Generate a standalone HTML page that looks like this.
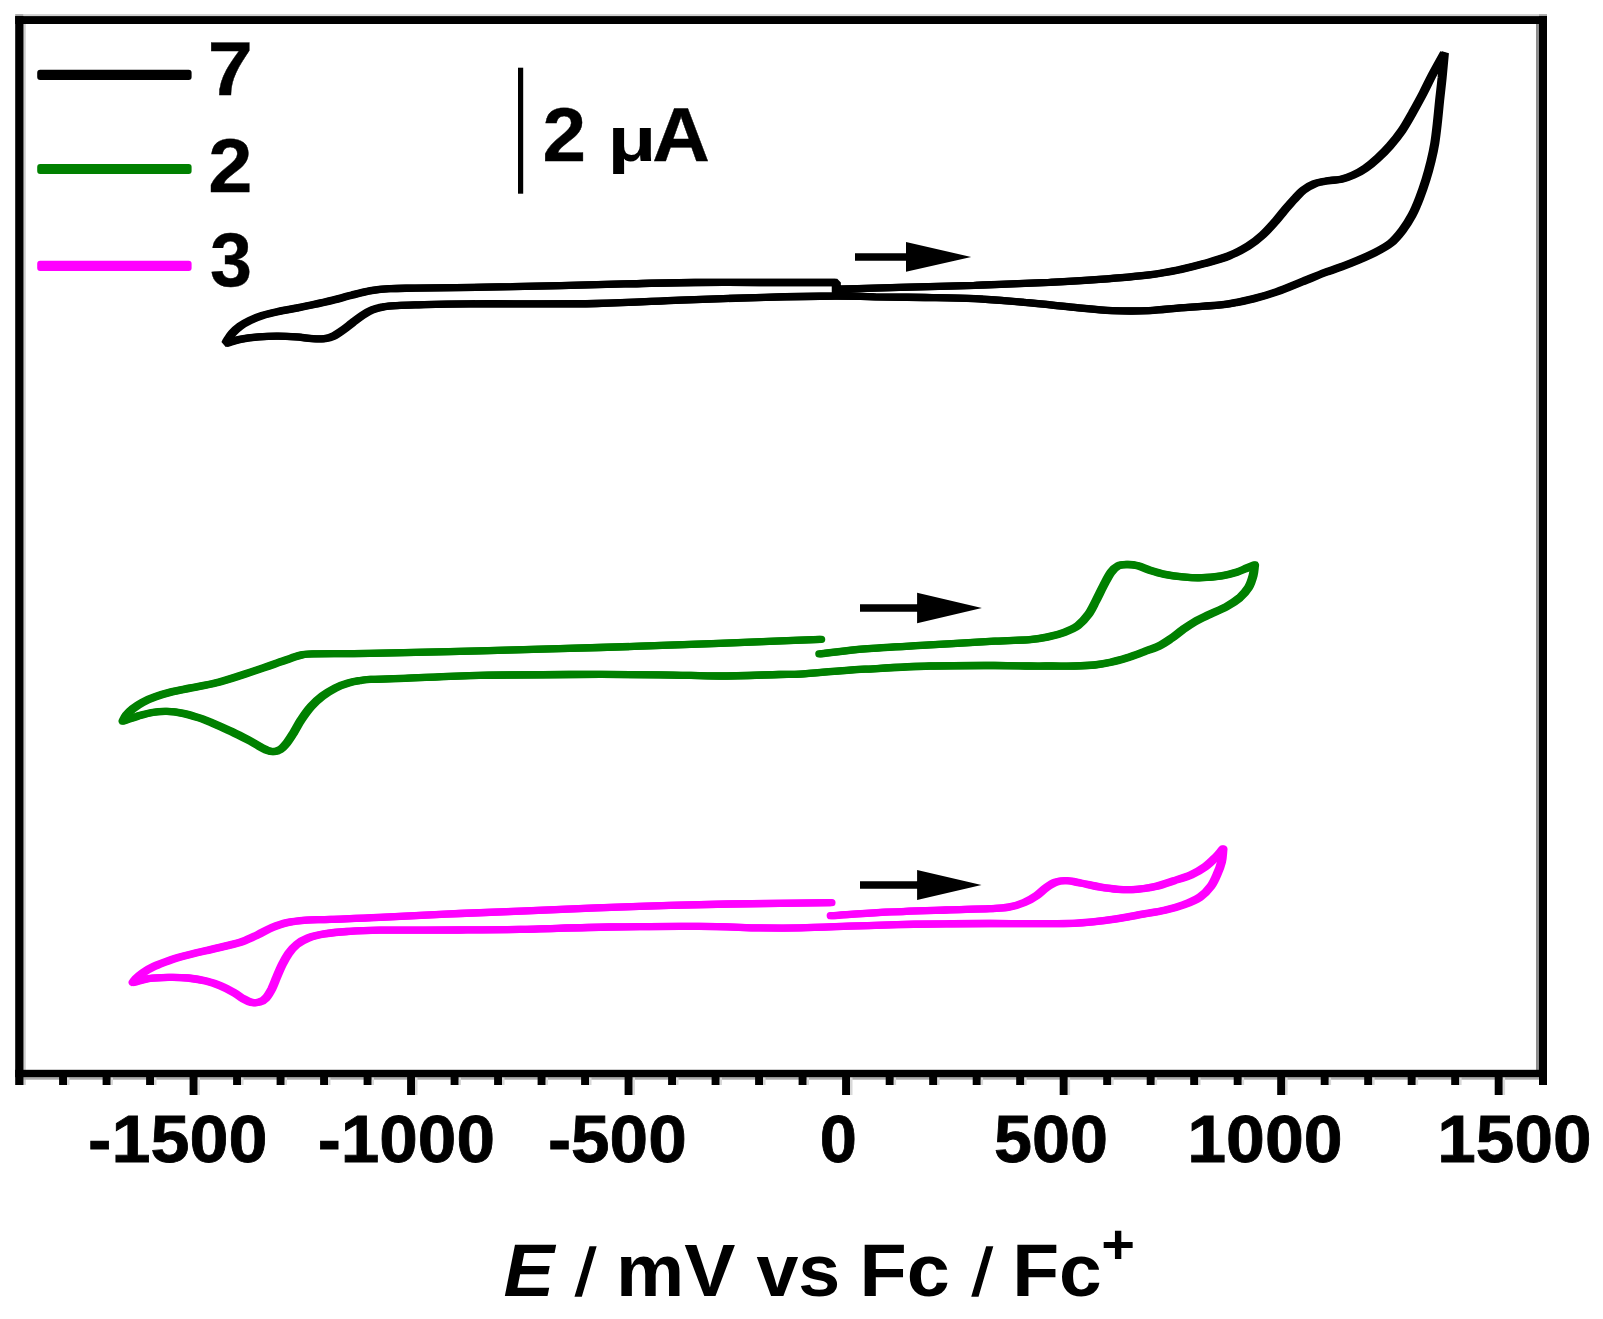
<!DOCTYPE html>
<html lang="en"><head><meta charset="utf-8"><title>Cyclic voltammograms</title>
<style>
html,body{margin:0;padding:0;background:#fff;}
body{width:1603px;height:1319px;overflow:hidden;}
svg{display:block;}
text{font-family:"Liberation Sans",sans-serif;font-weight:bold;fill:#000;stroke-linejoin:miter;}
.c{fill:none;stroke-width:7.3;stroke-linejoin:round;stroke-linecap:round;}
</style></head><body>
<svg width="1603" height="1319" viewBox="0 0 1603 1319">
<rect width="1603" height="1319" fill="#fff"/>
<!-- soft edges of frame -->
<g>
<rect x="23.5" y="14.1" width="1515.5" height="2.1" fill="#d0d0d0"/>
<rect x="15.2" y="14.1" width="8.3" height="2.1" fill="#a8a8a8"/>
<rect x="1539" y="14.1" width="8" height="2.1" fill="#a8a8a8"/>
<rect x="23.5" y="24" width="2.3" height="1061" fill="#cfcfcf"/>
<rect x="1536" y="24" width="3.1" height="1046" fill="#8c8c8c"/>
<rect x="23.5" y="1077.2" width="1515.5" height="2.5" fill="#aaa"/>
<g fill="#d8d8d8"><rect x="67.0" y="1077.2" width="2.5" height="7.8"/><rect x="110.5" y="1077.2" width="2.5" height="7.8"/><rect x="154.0" y="1077.2" width="2.5" height="7.8"/><rect x="197.5" y="1077.2" width="2.5" height="17.8"/><rect x="241.0" y="1077.2" width="2.5" height="7.8"/><rect x="284.5" y="1077.2" width="2.5" height="7.8"/><rect x="328.0" y="1077.2" width="2.5" height="7.8"/><rect x="371.5" y="1077.2" width="2.5" height="7.8"/><rect x="415.0" y="1077.2" width="2.5" height="17.8"/><rect x="458.5" y="1077.2" width="2.5" height="7.8"/><rect x="502.0" y="1077.2" width="2.5" height="7.8"/><rect x="545.5" y="1077.2" width="2.5" height="7.8"/><rect x="589.0" y="1077.2" width="2.5" height="7.8"/><rect x="632.5" y="1077.2" width="2.5" height="17.8"/><rect x="676.0" y="1077.2" width="2.5" height="7.8"/><rect x="719.5" y="1077.2" width="2.5" height="7.8"/><rect x="763.0" y="1077.2" width="2.5" height="7.8"/><rect x="806.5" y="1077.2" width="2.5" height="7.8"/><rect x="850.0" y="1077.2" width="2.5" height="17.8"/><rect x="893.6" y="1077.2" width="2.5" height="7.8"/><rect x="937.1" y="1077.2" width="2.5" height="7.8"/><rect x="980.6" y="1077.2" width="2.5" height="7.8"/><rect x="1024.1" y="1077.2" width="2.5" height="7.8"/><rect x="1067.6" y="1077.2" width="2.5" height="17.8"/><rect x="1111.1" y="1077.2" width="2.5" height="7.8"/><rect x="1154.6" y="1077.2" width="2.5" height="7.8"/><rect x="1198.1" y="1077.2" width="2.5" height="7.8"/><rect x="1241.6" y="1077.2" width="2.5" height="7.8"/><rect x="1285.1" y="1077.2" width="2.5" height="17.8"/><rect x="1328.6" y="1077.2" width="2.5" height="7.8"/><rect x="1372.1" y="1077.2" width="2.5" height="7.8"/><rect x="1415.6" y="1077.2" width="2.5" height="7.8"/><rect x="1459.1" y="1077.2" width="2.5" height="7.8"/><rect x="1502.6" y="1077.2" width="2.5" height="17.8"/></g>
</g>
<!-- frame -->
<g fill="#000">
<rect x="15.2" y="16.1" width="1531.8" height="7.9"/>
<rect x="15.2" y="16.1" width="8.3" height="1068.9"/>
<rect x="1539" y="16.1" width="8" height="1068.9"/>
<rect x="15.2" y="1069.8" width="1531.8" height="7.4"/>
<rect x="59.1" y="1074" width="7.9" height="11"/><rect x="102.6" y="1074" width="7.9" height="11"/><rect x="146.1" y="1074" width="7.9" height="11"/><rect x="189.6" y="1074" width="7.9" height="21"/><rect x="233.1" y="1074" width="7.9" height="11"/><rect x="276.6" y="1074" width="7.9" height="11"/><rect x="320.1" y="1074" width="7.9" height="11"/><rect x="363.6" y="1074" width="7.9" height="11"/><rect x="407.1" y="1074" width="7.9" height="21"/><rect x="450.6" y="1074" width="7.9" height="11"/><rect x="494.1" y="1074" width="7.9" height="11"/><rect x="537.6" y="1074" width="7.9" height="11"/><rect x="581.1" y="1074" width="7.9" height="11"/><rect x="624.6" y="1074" width="7.9" height="21"/><rect x="668.1" y="1074" width="7.9" height="11"/><rect x="711.6" y="1074" width="7.9" height="11"/><rect x="755.1" y="1074" width="7.9" height="11"/><rect x="798.6" y="1074" width="7.9" height="11"/><rect x="842.1" y="1074" width="7.9" height="21"/><rect x="885.7" y="1074" width="7.9" height="11"/><rect x="929.2" y="1074" width="7.9" height="11"/><rect x="972.7" y="1074" width="7.9" height="11"/><rect x="1016.2" y="1074" width="7.9" height="11"/><rect x="1059.7" y="1074" width="7.9" height="21"/><rect x="1103.2" y="1074" width="7.9" height="11"/><rect x="1146.7" y="1074" width="7.9" height="11"/><rect x="1190.2" y="1074" width="7.9" height="11"/><rect x="1233.7" y="1074" width="7.9" height="11"/><rect x="1277.2" y="1074" width="7.9" height="21"/><rect x="1320.7" y="1074" width="7.9" height="11"/><rect x="1364.2" y="1074" width="7.9" height="11"/><rect x="1407.7" y="1074" width="7.9" height="11"/><rect x="1451.2" y="1074" width="7.9" height="11"/><rect x="1494.7" y="1074" width="7.9" height="21"/>
</g>
<!-- legend -->
<rect x="37.2" y="69.8" width="154.4" height="10.1" rx="3" fill="#000"/>
<rect x="37.2" y="164" width="154.4" height="10.1" rx="3" fill="#008000"/>
<rect x="37.2" y="260.8" width="154.4" height="10.1" rx="3" fill="#ff00ff"/>
<g filter="url(#softt)"><text transform="translate(207.67,94.90) scale(1.0549,1)" font-size="76.80" stroke="#000" stroke-width="0.4">7</text><text transform="translate(208.33,191.50) scale(1.0332,1)" font-size="76.80" stroke="#000" stroke-width="0.4">2</text><text transform="translate(210.00,285.70) scale(0.9817,1)" font-size="76.80" stroke="#000" stroke-width="0.4">3</text></g>
<!-- scale bar -->
<rect x="518" y="67.7" width="5.2" height="126" fill="#000"/>
<g filter="url(#softt)"><text><tspan x="542.56" y="160.90" font-size="76.80" textLength="43.56" lengthAdjust="spacingAndGlyphs" stroke="#000" stroke-width="0.4">2</tspan> <tspan x="607.40" y="161.41" font-size="62.19" textLength="48.95" lengthAdjust="spacingAndGlyphs">μ</tspan><tspan x="652.21" y="160.90" font-size="76.80" textLength="57.65" lengthAdjust="spacingAndGlyphs" stroke="#000" stroke-width="0.4">A</tspan></text></g>
<!-- curves -->
<defs>
<filter id="soft" x="-2%" y="-2%" width="104%" height="104%"><feGaussianBlur stdDeviation="0.55"/></filter>
<filter id="softt" x="-2%" y="-10%" width="104%" height="120%"><feGaussianBlur stdDeviation="0.45"/></filter>
</defs>
<g filter="url(#soft)">
<g class="c" stroke="#000" style="stroke-linejoin:bevel"><path transform="translate(-0.9,0)" d="M837.4,289.2 C858.2,288.6 876.9,288.0 899.8,287.4 C922.7,286.8 949.8,286.1 974.7,285.3 C999.7,284.5 1028.7,283.4 1049.5,282.4 C1070.3,281.4 1082.8,280.7 1099.4,279.4 C1116.0,278.1 1135.9,276.4 1149.3,274.8 C1162.7,273.2 1170.8,271.5 1180.0,269.6 C1189.2,267.7 1196.2,265.9 1204.3,263.6 C1212.4,261.3 1221.4,258.9 1228.7,256.0 C1236.0,253.1 1242.4,249.7 1248.1,246.2 C1253.8,242.7 1258.1,239.1 1262.7,234.9 C1267.3,230.7 1272.2,225.0 1275.7,221.1 C1279.2,217.2 1280.6,215.0 1283.7,211.3 C1286.8,207.7 1291.0,202.7 1294.3,199.2 C1297.6,195.7 1300.1,192.6 1303.4,190.1 C1306.7,187.6 1310.2,185.5 1314.0,184.0 C1317.8,182.5 1321.5,181.8 1326.1,181.0 C1330.6,180.2 1336.8,180.2 1341.3,179.2 C1345.8,178.2 1349.4,176.8 1353.4,175.0 C1357.4,173.2 1361.5,171.0 1365.5,168.2 C1369.5,165.4 1373.7,161.9 1377.7,158.2 C1381.8,154.5 1385.8,150.6 1389.8,146.0 C1393.8,141.4 1398.1,136.1 1401.9,130.6 C1405.7,125.1 1409.0,119.0 1412.5,112.8 C1416.0,106.5 1419.9,99.4 1423.2,93.1 C1426.5,86.8 1428.8,81.6 1432.3,74.9 C1435.8,68.2 1440.4,60.2 1444.4,52.9 C1443.6,61.2 1442.9,70.0 1442.1,77.9 C1441.3,85.9 1440.4,93.0 1439.6,100.6 C1438.8,108.2 1438.1,116.3 1437.3,123.4 C1436.5,130.5 1435.8,136.8 1434.8,143.1 C1433.8,149.4 1432.5,155.2 1431.0,161.3 C1429.5,167.4 1427.9,173.4 1426.0,179.5 C1424.1,185.6 1422.0,191.7 1419.7,197.7 C1417.4,203.7 1414.9,209.9 1412.0,215.3 C1409.1,220.7 1406.0,225.6 1402.5,230.2 C1399.0,234.8 1395.6,239.2 1390.9,243.0 C1386.2,246.8 1381.4,249.3 1374.6,252.7 C1367.8,256.1 1358.4,260.1 1350.3,263.3 C1342.2,266.6 1334.1,269.1 1326.0,272.2 C1317.9,275.3 1309.8,278.7 1301.7,281.9 C1293.6,285.1 1285.4,288.8 1277.3,291.6 C1269.2,294.4 1261.1,296.9 1253.0,298.9 C1244.9,300.9 1236.8,302.6 1228.7,303.8 C1220.6,305.0 1212.4,305.5 1204.3,306.2 C1196.2,306.9 1189.2,307.2 1180.0,307.9 C1170.8,308.6 1160.6,310.2 1149.3,310.6 C1138.0,311.1 1124.4,311.1 1111.9,310.6 C1099.4,310.1 1089.0,308.8 1074.5,307.4 C1060.0,306.0 1041.2,303.8 1024.6,302.4 C1008.0,300.9 991.3,299.5 974.7,298.7 C958.1,297.9 941.4,297.8 924.8,297.5 C908.2,297.2 889.9,297.1 874.9,296.9 C859.9,296.6 853.3,295.9 835.0,296.0 C816.7,296.1 790.7,296.6 765.0,297.3 C739.3,298.0 708.8,299.1 680.7,300.1 C652.6,301.1 631.6,302.9 596.5,303.5 C561.4,304.1 500.2,303.6 470.0,303.8 C439.8,304.0 427.4,304.6 415.0,304.9 C402.6,305.2 401.2,305.3 395.9,305.6 C390.6,305.9 387.3,306.1 383.4,306.8 C379.4,307.5 375.7,308.4 372.2,309.9 C368.7,311.3 365.5,313.3 362.2,315.5 C358.9,317.7 355.5,320.5 352.2,323.0 C348.9,325.5 345.4,328.3 342.3,330.5 C339.2,332.7 336.4,334.8 333.5,336.1 C330.6,337.5 328.3,338.2 324.8,338.6 C321.3,339.0 317.1,338.9 312.3,338.6 C307.5,338.3 301.9,337.2 296.1,336.8 C290.3,336.4 283.6,336.1 277.4,336.1 C271.2,336.1 264.9,336.3 258.7,336.8 C252.5,337.3 245.5,338.2 240.0,339.3 C234.5,340.4 230.4,342.2 225.6,343.6 C226.2,342.4 226.3,341.7 227.5,339.9 C228.7,338.1 230.4,335.3 232.5,333.0 C234.6,330.7 237.1,328.3 240.0,326.2 C242.9,324.1 246.2,322.3 249.9,320.5 C253.6,318.7 257.8,316.9 262.4,315.5 C267.0,314.1 271.8,313.0 277.4,311.8 C283.0,310.6 289.9,309.4 296.1,308.1 C302.3,306.9 308.6,305.7 314.8,304.3 C321.0,302.9 327.3,301.6 333.5,300.0 C339.7,298.4 345.9,296.6 352.2,295.0 C358.4,293.4 364.8,291.7 371.0,290.6 C377.2,289.6 382.4,289.1 389.7,288.7 C397.0,288.3 394.6,288.4 415.0,288.1 C435.4,287.8 477.4,287.4 512.3,286.7 C547.2,286.0 594.2,284.6 624.6,283.9 C655.0,283.2 672.2,282.7 694.8,282.5 C717.4,282.3 736.4,282.5 760.0,282.5 C783.6,282.5 810.9,282.5 836.3,282.5 C836.3,287.0 836.3,291.5 836.3,296.0"/><path transform="translate(0.9,0)" d="M837.4,289.2 C858.2,288.6 876.9,288.0 899.8,287.4 C922.7,286.8 949.8,286.1 974.7,285.3 C999.7,284.5 1028.7,283.4 1049.5,282.4 C1070.3,281.4 1082.8,280.7 1099.4,279.4 C1116.0,278.1 1135.9,276.4 1149.3,274.8 C1162.7,273.2 1170.8,271.5 1180.0,269.6 C1189.2,267.7 1196.2,265.9 1204.3,263.6 C1212.4,261.3 1221.4,258.9 1228.7,256.0 C1236.0,253.1 1242.4,249.7 1248.1,246.2 C1253.8,242.7 1258.1,239.1 1262.7,234.9 C1267.3,230.7 1272.2,225.0 1275.7,221.1 C1279.2,217.2 1280.6,215.0 1283.7,211.3 C1286.8,207.7 1291.0,202.7 1294.3,199.2 C1297.6,195.7 1300.1,192.6 1303.4,190.1 C1306.7,187.6 1310.2,185.5 1314.0,184.0 C1317.8,182.5 1321.5,181.8 1326.1,181.0 C1330.6,180.2 1336.8,180.2 1341.3,179.2 C1345.8,178.2 1349.4,176.8 1353.4,175.0 C1357.4,173.2 1361.5,171.0 1365.5,168.2 C1369.5,165.4 1373.7,161.9 1377.7,158.2 C1381.8,154.5 1385.8,150.6 1389.8,146.0 C1393.8,141.4 1398.1,136.1 1401.9,130.6 C1405.7,125.1 1409.0,119.0 1412.5,112.8 C1416.0,106.5 1419.9,99.4 1423.2,93.1 C1426.5,86.8 1428.8,81.6 1432.3,74.9 C1435.8,68.2 1440.4,60.2 1444.4,52.9 C1443.6,61.2 1442.9,70.0 1442.1,77.9 C1441.3,85.9 1440.4,93.0 1439.6,100.6 C1438.8,108.2 1438.1,116.3 1437.3,123.4 C1436.5,130.5 1435.8,136.8 1434.8,143.1 C1433.8,149.4 1432.5,155.2 1431.0,161.3 C1429.5,167.4 1427.9,173.4 1426.0,179.5 C1424.1,185.6 1422.0,191.7 1419.7,197.7 C1417.4,203.7 1414.9,209.9 1412.0,215.3 C1409.1,220.7 1406.0,225.6 1402.5,230.2 C1399.0,234.8 1395.6,239.2 1390.9,243.0 C1386.2,246.8 1381.4,249.3 1374.6,252.7 C1367.8,256.1 1358.4,260.1 1350.3,263.3 C1342.2,266.6 1334.1,269.1 1326.0,272.2 C1317.9,275.3 1309.8,278.7 1301.7,281.9 C1293.6,285.1 1285.4,288.8 1277.3,291.6 C1269.2,294.4 1261.1,296.9 1253.0,298.9 C1244.9,300.9 1236.8,302.6 1228.7,303.8 C1220.6,305.0 1212.4,305.5 1204.3,306.2 C1196.2,306.9 1189.2,307.2 1180.0,307.9 C1170.8,308.6 1160.6,310.2 1149.3,310.6 C1138.0,311.1 1124.4,311.1 1111.9,310.6 C1099.4,310.1 1089.0,308.8 1074.5,307.4 C1060.0,306.0 1041.2,303.8 1024.6,302.4 C1008.0,300.9 991.3,299.5 974.7,298.7 C958.1,297.9 941.4,297.8 924.8,297.5 C908.2,297.2 889.9,297.1 874.9,296.9 C859.9,296.6 853.3,295.9 835.0,296.0 C816.7,296.1 790.7,296.6 765.0,297.3 C739.3,298.0 708.8,299.1 680.7,300.1 C652.6,301.1 631.6,302.9 596.5,303.5 C561.4,304.1 500.2,303.6 470.0,303.8 C439.8,304.0 427.4,304.6 415.0,304.9 C402.6,305.2 401.2,305.3 395.9,305.6 C390.6,305.9 387.3,306.1 383.4,306.8 C379.4,307.5 375.7,308.4 372.2,309.9 C368.7,311.3 365.5,313.3 362.2,315.5 C358.9,317.7 355.5,320.5 352.2,323.0 C348.9,325.5 345.4,328.3 342.3,330.5 C339.2,332.7 336.4,334.8 333.5,336.1 C330.6,337.5 328.3,338.2 324.8,338.6 C321.3,339.0 317.1,338.9 312.3,338.6 C307.5,338.3 301.9,337.2 296.1,336.8 C290.3,336.4 283.6,336.1 277.4,336.1 C271.2,336.1 264.9,336.3 258.7,336.8 C252.5,337.3 245.5,338.2 240.0,339.3 C234.5,340.4 230.4,342.2 225.6,343.6 C226.2,342.4 226.3,341.7 227.5,339.9 C228.7,338.1 230.4,335.3 232.5,333.0 C234.6,330.7 237.1,328.3 240.0,326.2 C242.9,324.1 246.2,322.3 249.9,320.5 C253.6,318.7 257.8,316.9 262.4,315.5 C267.0,314.1 271.8,313.0 277.4,311.8 C283.0,310.6 289.9,309.4 296.1,308.1 C302.3,306.9 308.6,305.7 314.8,304.3 C321.0,302.9 327.3,301.6 333.5,300.0 C339.7,298.4 345.9,296.6 352.2,295.0 C358.4,293.4 364.8,291.7 371.0,290.6 C377.2,289.6 382.4,289.1 389.7,288.7 C397.0,288.3 394.6,288.4 415.0,288.1 C435.4,287.8 477.4,287.4 512.3,286.7 C547.2,286.0 594.2,284.6 624.6,283.9 C655.0,283.2 672.2,282.7 694.8,282.5 C717.4,282.3 736.4,282.5 760.0,282.5 C783.6,282.5 810.9,282.5 836.3,282.5 C836.3,287.0 836.3,291.5 836.3,296.0"/></g>
<g class="c" stroke="#008000"><path transform="translate(-0.9,0)" d="M819.8,653.8 C834.8,652.2 846.6,650.4 864.9,648.9 C883.2,647.4 908.2,646.2 929.8,644.9 C951.4,643.6 977.9,642.1 994.6,641.2 C1011.3,640.3 1021.1,640.3 1030.0,639.6 C1038.9,638.9 1042.3,638.1 1048.0,636.9 C1053.7,635.7 1059.4,634.2 1064.4,632.3 C1069.4,630.4 1073.9,628.6 1077.9,625.6 C1081.9,622.6 1085.4,618.5 1088.4,614.4 C1091.4,610.3 1093.4,605.6 1095.9,600.9 C1098.4,596.1 1100.9,590.6 1103.4,585.9 C1105.9,581.2 1108.4,575.9 1110.9,572.5 C1113.4,569.1 1115.6,567.0 1118.3,565.7 C1121.0,564.4 1124.0,564.5 1127.3,564.5 C1130.5,564.5 1134.0,564.8 1137.8,565.7 C1141.5,566.7 1145.3,568.8 1149.8,570.2 C1154.3,571.6 1159.3,573.2 1164.8,574.3 C1170.3,575.4 1176.5,576.3 1182.7,576.9 C1188.9,577.5 1195.7,577.9 1202.2,577.7 C1208.7,577.5 1215.9,576.7 1221.6,575.8 C1227.3,574.9 1232.3,573.5 1236.6,572.2 C1240.8,570.9 1244.1,569.2 1247.1,568.0 C1250.1,566.8 1252.1,566.0 1254.6,565.0 C1254.1,568.5 1254.1,571.8 1253.1,575.5 C1252.1,579.2 1250.8,583.7 1248.6,587.4 C1246.3,591.1 1243.3,594.6 1239.6,597.9 C1235.8,601.1 1231.1,604.1 1226.1,606.9 C1221.1,609.6 1214.9,611.9 1209.7,614.4 C1204.5,616.9 1199.2,619.2 1194.7,621.8 C1190.2,624.4 1186.7,627.0 1182.7,629.8 C1178.7,632.6 1174.7,636.1 1170.7,638.8 C1166.7,641.5 1163.3,643.9 1158.8,646.1 C1154.3,648.3 1149.0,649.8 1143.8,651.8 C1138.5,653.8 1132.8,656.0 1127.3,657.8 C1121.8,659.5 1116.3,661.1 1110.8,662.3 C1105.3,663.5 1100.4,664.4 1094.4,665.0 C1088.4,665.6 1081.9,665.8 1074.9,666.0 C1067.9,666.2 1060.0,666.0 1052.5,666.0 C1045.0,666.0 1039.7,666.1 1030.0,666.0 C1020.4,665.9 1011.3,665.5 994.6,665.5 C977.9,665.5 951.4,665.4 929.8,666.0 C908.2,666.6 879.9,668.4 864.9,669.2 C849.9,670.0 850.8,670.1 840.0,670.9 C829.2,671.7 810.1,673.5 800.0,674.1 C789.9,674.7 792.7,674.2 779.2,674.5 C765.8,674.8 739.3,676.0 719.3,676.0 C699.3,676.0 684.3,675.0 659.4,674.8 C634.5,674.5 599.5,674.4 569.6,674.5 C539.7,674.6 507.2,674.8 479.8,675.4 C452.4,676.0 423.2,677.7 404.9,678.4 C386.6,679.1 377.5,679.0 370.0,679.4 C362.5,679.8 363.4,680.0 359.8,680.6 C356.2,681.2 352.4,681.8 348.4,683.0 C344.3,684.2 339.8,685.7 335.5,687.9 C331.2,690.1 326.6,692.9 322.5,696.0 C318.4,699.1 314.6,702.6 311.1,706.5 C307.6,710.4 304.4,715.0 301.4,719.5 C298.4,724.0 295.7,729.4 293.3,733.3 C290.9,737.2 289.0,740.3 286.8,743.0 C284.6,745.7 282.5,748.1 280.3,749.5 C278.1,750.9 276.0,751.5 273.8,751.6 C271.6,751.7 269.7,751.2 267.3,750.3 C264.9,749.4 262.4,748.0 259.2,746.2 C256.0,744.5 252.5,742.2 247.9,739.8 C243.3,737.4 237.1,734.2 231.7,731.6 C226.3,729.0 220.8,726.6 215.4,724.3 C210.0,722.0 204.6,719.7 199.2,717.9 C193.8,716.1 188.4,714.4 183.0,713.3 C177.6,712.2 171.9,711.5 166.8,711.4 C161.7,711.3 157.1,711.7 152.2,712.5 C147.3,713.3 142.5,714.8 137.6,716.2 C132.7,717.6 127.9,719.5 123.0,721.1 C124.1,719.2 124.6,717.4 126.2,715.4 C127.8,713.4 130.0,711.1 132.7,708.9 C135.4,706.7 138.6,704.4 142.4,702.4 C146.2,700.4 150.5,698.5 155.4,696.8 C160.3,695.0 165.7,693.4 171.6,691.9 C177.5,690.4 183.8,689.4 191.1,687.9 C198.4,686.4 207.3,685.0 215.4,683.0 C223.5,681.0 231.7,678.3 239.8,675.7 C247.9,673.1 256.5,670.2 264.1,667.6 C271.7,665.0 279.2,662.3 285.2,660.3 C291.1,658.3 295.2,656.5 299.8,655.4 C304.4,654.3 301.1,654.1 312.8,653.8 C324.5,653.4 342.2,653.8 370.0,653.3 C397.8,652.8 441.6,651.8 479.8,650.8 C518.0,649.8 559.6,648.7 599.5,647.5 C639.4,646.3 682.4,644.8 719.3,643.4 C756.2,642.0 786.9,640.7 820.7,639.3"/><path transform="translate(0.9,0)" d="M819.8,653.8 C834.8,652.2 846.6,650.4 864.9,648.9 C883.2,647.4 908.2,646.2 929.8,644.9 C951.4,643.6 977.9,642.1 994.6,641.2 C1011.3,640.3 1021.1,640.3 1030.0,639.6 C1038.9,638.9 1042.3,638.1 1048.0,636.9 C1053.7,635.7 1059.4,634.2 1064.4,632.3 C1069.4,630.4 1073.9,628.6 1077.9,625.6 C1081.9,622.6 1085.4,618.5 1088.4,614.4 C1091.4,610.3 1093.4,605.6 1095.9,600.9 C1098.4,596.1 1100.9,590.6 1103.4,585.9 C1105.9,581.2 1108.4,575.9 1110.9,572.5 C1113.4,569.1 1115.6,567.0 1118.3,565.7 C1121.0,564.4 1124.0,564.5 1127.3,564.5 C1130.5,564.5 1134.0,564.8 1137.8,565.7 C1141.5,566.7 1145.3,568.8 1149.8,570.2 C1154.3,571.6 1159.3,573.2 1164.8,574.3 C1170.3,575.4 1176.5,576.3 1182.7,576.9 C1188.9,577.5 1195.7,577.9 1202.2,577.7 C1208.7,577.5 1215.9,576.7 1221.6,575.8 C1227.3,574.9 1232.3,573.5 1236.6,572.2 C1240.8,570.9 1244.1,569.2 1247.1,568.0 C1250.1,566.8 1252.1,566.0 1254.6,565.0 C1254.1,568.5 1254.1,571.8 1253.1,575.5 C1252.1,579.2 1250.8,583.7 1248.6,587.4 C1246.3,591.1 1243.3,594.6 1239.6,597.9 C1235.8,601.1 1231.1,604.1 1226.1,606.9 C1221.1,609.6 1214.9,611.9 1209.7,614.4 C1204.5,616.9 1199.2,619.2 1194.7,621.8 C1190.2,624.4 1186.7,627.0 1182.7,629.8 C1178.7,632.6 1174.7,636.1 1170.7,638.8 C1166.7,641.5 1163.3,643.9 1158.8,646.1 C1154.3,648.3 1149.0,649.8 1143.8,651.8 C1138.5,653.8 1132.8,656.0 1127.3,657.8 C1121.8,659.5 1116.3,661.1 1110.8,662.3 C1105.3,663.5 1100.4,664.4 1094.4,665.0 C1088.4,665.6 1081.9,665.8 1074.9,666.0 C1067.9,666.2 1060.0,666.0 1052.5,666.0 C1045.0,666.0 1039.7,666.1 1030.0,666.0 C1020.4,665.9 1011.3,665.5 994.6,665.5 C977.9,665.5 951.4,665.4 929.8,666.0 C908.2,666.6 879.9,668.4 864.9,669.2 C849.9,670.0 850.8,670.1 840.0,670.9 C829.2,671.7 810.1,673.5 800.0,674.1 C789.9,674.7 792.7,674.2 779.2,674.5 C765.8,674.8 739.3,676.0 719.3,676.0 C699.3,676.0 684.3,675.0 659.4,674.8 C634.5,674.5 599.5,674.4 569.6,674.5 C539.7,674.6 507.2,674.8 479.8,675.4 C452.4,676.0 423.2,677.7 404.9,678.4 C386.6,679.1 377.5,679.0 370.0,679.4 C362.5,679.8 363.4,680.0 359.8,680.6 C356.2,681.2 352.4,681.8 348.4,683.0 C344.3,684.2 339.8,685.7 335.5,687.9 C331.2,690.1 326.6,692.9 322.5,696.0 C318.4,699.1 314.6,702.6 311.1,706.5 C307.6,710.4 304.4,715.0 301.4,719.5 C298.4,724.0 295.7,729.4 293.3,733.3 C290.9,737.2 289.0,740.3 286.8,743.0 C284.6,745.7 282.5,748.1 280.3,749.5 C278.1,750.9 276.0,751.5 273.8,751.6 C271.6,751.7 269.7,751.2 267.3,750.3 C264.9,749.4 262.4,748.0 259.2,746.2 C256.0,744.5 252.5,742.2 247.9,739.8 C243.3,737.4 237.1,734.2 231.7,731.6 C226.3,729.0 220.8,726.6 215.4,724.3 C210.0,722.0 204.6,719.7 199.2,717.9 C193.8,716.1 188.4,714.4 183.0,713.3 C177.6,712.2 171.9,711.5 166.8,711.4 C161.7,711.3 157.1,711.7 152.2,712.5 C147.3,713.3 142.5,714.8 137.6,716.2 C132.7,717.6 127.9,719.5 123.0,721.1 C124.1,719.2 124.6,717.4 126.2,715.4 C127.8,713.4 130.0,711.1 132.7,708.9 C135.4,706.7 138.6,704.4 142.4,702.4 C146.2,700.4 150.5,698.5 155.4,696.8 C160.3,695.0 165.7,693.4 171.6,691.9 C177.5,690.4 183.8,689.4 191.1,687.9 C198.4,686.4 207.3,685.0 215.4,683.0 C223.5,681.0 231.7,678.3 239.8,675.7 C247.9,673.1 256.5,670.2 264.1,667.6 C271.7,665.0 279.2,662.3 285.2,660.3 C291.1,658.3 295.2,656.5 299.8,655.4 C304.4,654.3 301.1,654.1 312.8,653.8 C324.5,653.4 342.2,653.8 370.0,653.3 C397.8,652.8 441.6,651.8 479.8,650.8 C518.0,649.8 559.6,648.7 599.5,647.5 C639.4,646.3 682.4,644.8 719.3,643.4 C756.2,642.0 786.9,640.7 820.7,639.3"/></g>
<g class="c" stroke="#ff00ff"><path transform="translate(-0.9,0)" d="M831.2,915.7 C847.8,914.6 862.0,913.4 881.1,912.4 C900.2,911.4 927.9,910.6 946.0,910.0 C964.1,909.4 979.5,909.1 990.0,908.6 C1000.5,908.1 1003.0,908.2 1008.7,907.2 C1014.4,906.2 1019.6,904.5 1024.3,902.5 C1029.0,900.5 1033.2,898.0 1036.8,895.5 C1040.4,893.0 1043.0,889.9 1046.1,887.7 C1049.2,885.5 1052.1,883.4 1055.5,882.2 C1058.9,881.0 1062.2,880.6 1066.4,880.7 C1070.6,880.8 1075.0,882.0 1080.5,883.0 C1086.0,884.0 1093.0,885.9 1099.2,886.9 C1105.4,887.9 1111.7,888.9 1117.9,889.3 C1124.1,889.7 1130.4,889.8 1136.6,889.3 C1142.8,888.8 1149.1,887.9 1155.3,886.5 C1161.5,885.1 1168.0,882.7 1174.0,880.7 C1180.0,878.8 1186.0,877.1 1191.2,874.8 C1196.4,872.5 1201.2,869.7 1205.2,866.8 C1209.2,863.9 1212.5,860.5 1215.5,857.5 C1218.5,854.5 1220.5,851.8 1223.0,849.0 C1222.5,853.3 1222.5,857.8 1221.5,862.0 C1220.5,866.2 1219.0,870.0 1217.2,874.0 C1215.5,878.0 1213.9,882.2 1211.0,886.1 C1208.1,890.0 1204.6,894.0 1200.0,897.1 C1195.4,900.2 1189.3,902.7 1183.4,904.9 C1177.5,907.1 1171.5,908.8 1164.7,910.3 C1157.9,911.8 1150.1,912.9 1142.8,914.2 C1135.5,915.5 1128.3,916.9 1121.0,918.1 C1113.7,919.3 1106.5,920.4 1099.2,921.2 C1091.9,922.0 1085.1,922.7 1077.3,923.1 C1069.5,923.5 1061.8,923.5 1052.4,923.6 C1043.1,923.7 1031.6,923.6 1021.2,923.6 C1010.8,923.6 1002.5,923.5 990.0,923.5 C977.5,923.5 961.5,923.6 946.0,923.8 C930.5,924.0 913.5,924.2 897.3,924.6 C881.1,925.0 864.9,925.7 848.7,926.2 C832.5,926.8 814.9,927.6 800.0,927.9 C785.1,928.2 776.0,928.1 759.2,927.9 C742.4,927.6 724.2,926.5 699.3,926.4 C674.3,926.2 639.4,926.5 609.5,927.0 C579.6,927.5 544.7,928.9 519.7,929.4 C494.8,929.9 483.1,929.9 459.8,930.0 C436.5,930.1 398.8,930.0 380.0,930.2 C361.2,930.5 356.4,930.9 347.1,931.5 C337.8,932.1 330.9,932.8 324.4,933.9 C317.9,935.0 312.8,936.2 308.2,938.0 C303.6,939.8 300.1,941.9 296.8,944.5 C293.6,947.1 291.1,950.0 288.7,953.4 C286.3,956.8 284.2,960.7 282.2,964.7 C280.2,968.8 278.2,973.6 276.5,977.7 C274.8,981.8 273.4,985.7 271.7,989.1 C269.9,992.5 268.0,995.8 266.0,998.0 C264.0,1000.2 261.9,1001.4 259.5,1002.1 C257.1,1002.8 254.1,1003.0 251.4,1002.4 C248.7,1001.8 246.3,1000.5 243.3,998.8 C240.3,997.1 237.3,994.5 233.5,992.3 C229.7,990.1 225.2,987.7 220.6,985.8 C216.0,983.9 211.4,982.3 206.0,981.0 C200.6,979.7 194.3,978.6 188.1,978.0 C181.9,977.4 175.2,977.3 168.7,977.4 C162.2,977.5 155.1,977.6 149.2,978.5 C143.2,979.4 138.4,981.2 133.0,982.5 C133.8,981.4 133.8,980.9 135.4,979.3 C137.0,977.7 139.6,975.0 142.7,972.9 C145.8,970.8 149.8,968.4 154.1,966.4 C158.4,964.4 163.6,962.5 168.7,960.7 C173.8,958.9 179.0,957.4 184.9,955.8 C190.8,954.2 197.6,952.6 204.3,951.0 C211.1,949.4 218.9,947.7 225.4,946.1 C231.9,944.5 237.9,943.1 243.3,941.2 C248.7,939.3 253.0,937.0 257.9,934.7 C262.8,932.4 267.6,929.4 272.5,927.4 C277.4,925.4 281.4,923.8 287.1,922.6 C292.8,921.4 299.2,920.7 306.5,920.1 C313.8,919.5 318.6,919.8 330.9,919.3 C343.1,918.8 358.5,918.4 380.0,917.4 C401.5,916.4 431.5,914.8 459.8,913.5 C488.1,912.2 519.6,911.1 549.6,909.9 C579.6,908.7 609.5,907.3 639.5,906.3 C669.5,905.3 697.4,904.6 729.3,904.0 C761.2,903.4 797.1,903.1 831.0,902.6"/><path transform="translate(0.9,0)" d="M831.2,915.7 C847.8,914.6 862.0,913.4 881.1,912.4 C900.2,911.4 927.9,910.6 946.0,910.0 C964.1,909.4 979.5,909.1 990.0,908.6 C1000.5,908.1 1003.0,908.2 1008.7,907.2 C1014.4,906.2 1019.6,904.5 1024.3,902.5 C1029.0,900.5 1033.2,898.0 1036.8,895.5 C1040.4,893.0 1043.0,889.9 1046.1,887.7 C1049.2,885.5 1052.1,883.4 1055.5,882.2 C1058.9,881.0 1062.2,880.6 1066.4,880.7 C1070.6,880.8 1075.0,882.0 1080.5,883.0 C1086.0,884.0 1093.0,885.9 1099.2,886.9 C1105.4,887.9 1111.7,888.9 1117.9,889.3 C1124.1,889.7 1130.4,889.8 1136.6,889.3 C1142.8,888.8 1149.1,887.9 1155.3,886.5 C1161.5,885.1 1168.0,882.7 1174.0,880.7 C1180.0,878.8 1186.0,877.1 1191.2,874.8 C1196.4,872.5 1201.2,869.7 1205.2,866.8 C1209.2,863.9 1212.5,860.5 1215.5,857.5 C1218.5,854.5 1220.5,851.8 1223.0,849.0 C1222.5,853.3 1222.5,857.8 1221.5,862.0 C1220.5,866.2 1219.0,870.0 1217.2,874.0 C1215.5,878.0 1213.9,882.2 1211.0,886.1 C1208.1,890.0 1204.6,894.0 1200.0,897.1 C1195.4,900.2 1189.3,902.7 1183.4,904.9 C1177.5,907.1 1171.5,908.8 1164.7,910.3 C1157.9,911.8 1150.1,912.9 1142.8,914.2 C1135.5,915.5 1128.3,916.9 1121.0,918.1 C1113.7,919.3 1106.5,920.4 1099.2,921.2 C1091.9,922.0 1085.1,922.7 1077.3,923.1 C1069.5,923.5 1061.8,923.5 1052.4,923.6 C1043.1,923.7 1031.6,923.6 1021.2,923.6 C1010.8,923.6 1002.5,923.5 990.0,923.5 C977.5,923.5 961.5,923.6 946.0,923.8 C930.5,924.0 913.5,924.2 897.3,924.6 C881.1,925.0 864.9,925.7 848.7,926.2 C832.5,926.8 814.9,927.6 800.0,927.9 C785.1,928.2 776.0,928.1 759.2,927.9 C742.4,927.6 724.2,926.5 699.3,926.4 C674.3,926.2 639.4,926.5 609.5,927.0 C579.6,927.5 544.7,928.9 519.7,929.4 C494.8,929.9 483.1,929.9 459.8,930.0 C436.5,930.1 398.8,930.0 380.0,930.2 C361.2,930.5 356.4,930.9 347.1,931.5 C337.8,932.1 330.9,932.8 324.4,933.9 C317.9,935.0 312.8,936.2 308.2,938.0 C303.6,939.8 300.1,941.9 296.8,944.5 C293.6,947.1 291.1,950.0 288.7,953.4 C286.3,956.8 284.2,960.7 282.2,964.7 C280.2,968.8 278.2,973.6 276.5,977.7 C274.8,981.8 273.4,985.7 271.7,989.1 C269.9,992.5 268.0,995.8 266.0,998.0 C264.0,1000.2 261.9,1001.4 259.5,1002.1 C257.1,1002.8 254.1,1003.0 251.4,1002.4 C248.7,1001.8 246.3,1000.5 243.3,998.8 C240.3,997.1 237.3,994.5 233.5,992.3 C229.7,990.1 225.2,987.7 220.6,985.8 C216.0,983.9 211.4,982.3 206.0,981.0 C200.6,979.7 194.3,978.6 188.1,978.0 C181.9,977.4 175.2,977.3 168.7,977.4 C162.2,977.5 155.1,977.6 149.2,978.5 C143.2,979.4 138.4,981.2 133.0,982.5 C133.8,981.4 133.8,980.9 135.4,979.3 C137.0,977.7 139.6,975.0 142.7,972.9 C145.8,970.8 149.8,968.4 154.1,966.4 C158.4,964.4 163.6,962.5 168.7,960.7 C173.8,958.9 179.0,957.4 184.9,955.8 C190.8,954.2 197.6,952.6 204.3,951.0 C211.1,949.4 218.9,947.7 225.4,946.1 C231.9,944.5 237.9,943.1 243.3,941.2 C248.7,939.3 253.0,937.0 257.9,934.7 C262.8,932.4 267.6,929.4 272.5,927.4 C277.4,925.4 281.4,923.8 287.1,922.6 C292.8,921.4 299.2,920.7 306.5,920.1 C313.8,919.5 318.6,919.8 330.9,919.3 C343.1,918.8 358.5,918.4 380.0,917.4 C401.5,916.4 431.5,914.8 459.8,913.5 C488.1,912.2 519.6,911.1 549.6,909.9 C579.6,908.7 609.5,907.3 639.5,906.3 C669.5,905.3 697.4,904.6 729.3,904.0 C761.2,903.4 797.1,903.1 831.0,902.6"/></g>
</g>
<!-- arrows -->
<g filter="url(#soft)">
<path d="M855,253.15 H906 V242.00 L971.2,256.9 L906,271.80 V260.65 H855 Z" fill="#000"/>
<path d="M860,604.30 H917.1 V592.80 L981.9,608 L917.1,623.20 V611.70 H860 Z" fill="#000"/>
<path d="M860,881.30 H917.1 V870.00 L981.5,885 L917.1,900.00 V888.70 H860 Z" fill="#000"/>
</g>
<!-- tick labels -->
<g filter="url(#softt)"><text transform="translate(88.01,1161.90) scale(1.0466,1)" font-size="67.05" stroke="#000" stroke-width="0.8">-1500</text><text transform="translate(317.64,1161.90) scale(1.0340,1)" font-size="67.05" stroke="#000" stroke-width="0.8">-1000</text><text transform="translate(547.94,1161.90) scale(1.0344,1)" font-size="67.05" stroke="#000" stroke-width="0.8">-500</text><text transform="translate(819.63,1161.90) scale(0.9954,1)" font-size="67.05" stroke="#000" stroke-width="0.8">0</text><text transform="translate(993.99,1161.90) scale(1.0190,1)" font-size="67.05" stroke="#000" stroke-width="0.8">500</text><text transform="translate(1187.15,1161.90) scale(1.0430,1)" font-size="67.05" stroke="#000" stroke-width="0.8">1000</text><text transform="translate(1437.28,1161.90) scale(1.0339,1)" font-size="67.05" stroke="#000" stroke-width="0.8">1500</text></g>
<!-- axis title -->
<g filter="url(#softt)"><text><tspan x="503.47" y="1295.90" font-size="73.31" textLength="50.79" lengthAdjust="spacingAndGlyphs" font-style="italic">E</tspan> <tspan x="575.56" y="1294.53" font-size="66.67" textLength="20.20" lengthAdjust="spacingAndGlyphs" stroke="#000" stroke-width="1.4" style="font-weight:normal">/</tspan> <tspan x="616.01" y="1295.90" font-size="73.31" textLength="119.46" lengthAdjust="spacingAndGlyphs">mV</tspan> <tspan x="756.42" y="1295.90" font-size="73.31" textLength="83.87" lengthAdjust="spacingAndGlyphs">vs</tspan> <tspan x="859.48" y="1295.90" font-size="73.31" textLength="90.20" lengthAdjust="spacingAndGlyphs">Fc</tspan> <tspan x="972.16" y="1294.53" font-size="66.67" textLength="20.11" lengthAdjust="spacingAndGlyphs" stroke="#000" stroke-width="1.4" style="font-weight:normal">/</tspan> <tspan x="1012.22" y="1295.90" font-size="73.31" textLength="89.55" lengthAdjust="spacingAndGlyphs">Fc</tspan><tspan x="1101.24" y="1262.61" font-size="55.17" textLength="33.75" lengthAdjust="spacingAndGlyphs">+</tspan></text></g>
</svg>
</body></html>
